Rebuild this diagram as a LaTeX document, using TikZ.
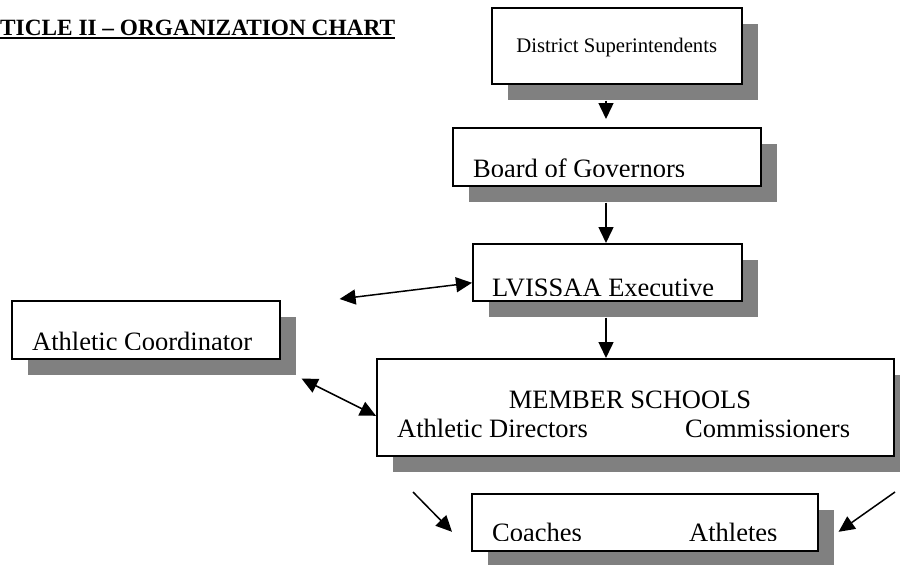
\documentclass[tikz,border=0pt]{standalone}
\usepackage{fontspec}
\setmainfont{Liberation Serif}
\usetikzlibrary{calc,positioning,shadows,arrows.meta}
\definecolor{shadowgray}{RGB}{128,128,128}

\begin{document}
\begin{tikzpicture}[x=1pt,y=-1pt,
  orgbox/.style={draw,line width=1.6pt,fill=white,inner sep=0pt,anchor=north west,
    drop shadow={shadow xshift=16pt,shadow yshift=-16pt,fill=shadowgray,opacity=1}},
  lbl/.style={anchor=base west,inner sep=0pt,font=\fontsize{26.5}{30}\selectfont},
  arr/.style={-{Triangle[length=16pt,width=15pt]},line width=1.5pt},
  dblarr/.style={{Triangle[length=16pt,width=15pt]}-{Triangle[length=16pt,width=15pt]},line width=1.5pt}]

\useasboundingbox (0,0) rectangle (900,565);

% heading
\node[anchor=base west,inner sep=0pt,font=\fontsize{23.3}{28}\selectfont\bfseries] (title) at (0,35) {TICLE II – ORGANIZATION CHART};
\draw[line width=2pt] ([yshift=-3pt]title.base west) -- ([yshift=-3pt]title.base east);

% boxes
\node[orgbox,minimum width=250pt,minimum height=76pt,text depth=0pt,font=\fontsize{20.7}{24}\selectfont] (ds) at (491,7) {District Superintendents};
\node[orgbox,minimum width=308pt,minimum height=58pt] (bog) at (452,127) {};
\node[orgbox,minimum width=269pt,minimum height=57pt] (lv) at (472,243) {};
\node[orgbox,minimum width=268pt,minimum height=58pt] (ac) at (11,300) {};
\node[orgbox,minimum width=517pt,minimum height=97pt] (ms) at (376,358) {};
\node[orgbox,minimum width=346pt,minimum height=57pt] (co) at (471,493) {};

% labels, cut off at the bottom of the text area
\begin{scope}
  \clip (bog.north west) rectangle ([yshift=10pt]bog.south east);
  \node[lbl] (bogtxt) at (473,177) {Board of Governors};
\end{scope}
\begin{scope}
  \clip (lv.north west) rectangle ([yshift=6pt]lv.south east);
  \node[lbl] (lvtxt) at (492,296) {LVISSAA Executive};
\end{scope}
\begin{scope}
  \clip (ac.north west) rectangle ([yshift=10pt]ac.south east);
  \node[lbl] (actxt) at (32,350) {Athletic Coordinator};
\end{scope}
\begin{scope}
  \clip (co.north west) rectangle ([yshift=11pt]co.south east);
  \node[lbl] (cotxt) at (492,541) {Coaches};
  \node[lbl] (attxt) at (689,541) {Athletes};
\end{scope}

\node[lbl,anchor=base] (mstxt) at (630,408) {MEMBER SCHOOLS};
\node[lbl] (adtxt) at (397,437) {Athletic Directors};
\node[lbl] (comtxt) at (685,437) {Commissioners};

% arrows down the middle
\coordinate (spine) at (606,0);
\draw[arr,shorten <=16pt,shorten >=8pt] (ds.south -| spine) -- (bog.north -| spine);
\draw[arr,shorten <=16pt] (bog.south -| spine) -- (lv.north -| spine);
\draw[arr,shorten <=16pt] (lv.south -| spine) -- (ms.north -| spine);

% coordinator links
\draw[dblarr] ($(ac.north east)+(59,-1)$) -- ($(lv.west)+(0,10.5)$);
\draw[dblarr] ($(ac.south east)+(21,19)$) -- ($(ms.west)+(0,8.5)$);

% down to coaches and athletes
\coordinate (coL) at (413,492);
\coordinate (coR) at (895,492);
\draw[arr] (coL) -- ($(co.west)+(-19,9.5)$);
\draw[arr] (coR) -- ($(co.east)+(20,9.5)$);
\end{tikzpicture}
\end{document}
